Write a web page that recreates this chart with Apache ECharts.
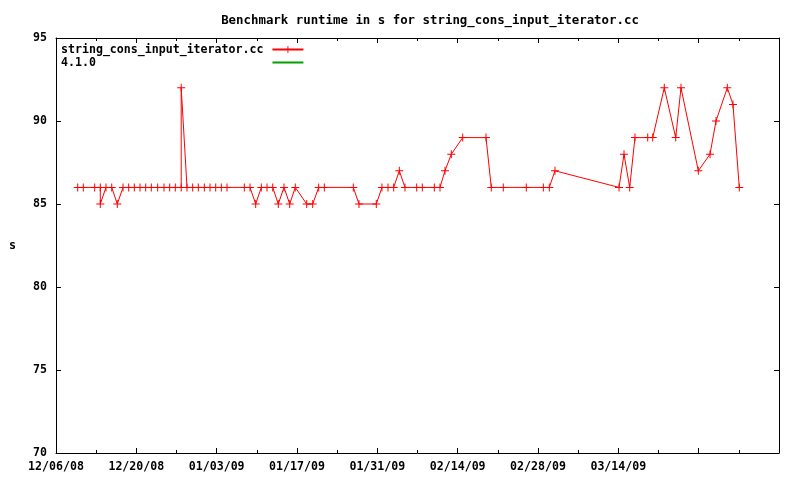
<!DOCTYPE html>
<html>
<head>
<meta charset="utf-8">
<script src="https://cdn.jsdelivr.net/npm/echarts@6/dist/echarts.min.js"></script>
<style>html,body{margin:0;padding:0;background:#fff;}#c{width:800px;height:480px;}</style>
</head>
<body>
<div id="c"></div>
<script>
// Days since 12/06/08 and runtime in s
var daysSinceStart = [3.78,4.76,6.74,7.72,7.72,8.71,9.71,10.68,11.68,12.67,13.65,14.64,15.63,16.61,17.72,18.82,19.81,20.79,21.82,21.82,22.83,23.82,24.80,25.85,26.84,27.83,28.81,29.80,32.82,33.81,34.80,35.78,36.77,37.77,38.74,39.73,40.73,41.70,43.69,44.74,45.78,46.76,51.81,52.80,55.82,56.81,57.86,58.85,59.83,60.82,62.86,63.84,65.93,66.92,67.79,68.89,70.88,74.94,75.86,77.95,81.96,84.93,85.97,86.96,98.12,98.99,99.98,100.90,103.12,103.99,106.01,108.00,108.92,111.94,113.98,115.02,116.99,117.98,119.08];
var runtimeS = [86,86,86,86,85,86,86,85,86,86,86,86,86,86,86,86,86,86,86,92,86,86,86,86,86,86,86,86,86,86,85,86,86,86,85,86,85,86,85,85,86,86,86,85,85,86,86,86,87,86,86,86,86,86,87,88,89,89,86,86,86,86,86,87,86,88,86,89,89,89,92,89,92,87,88,90,92,91,86];
var xTickLabels = ['12/06/08','12/20/08','01/03/09','01/17/09','01/31/09','02/14/09','02/28/09','03/14/09'];
var seriesNames = ['string_cons_input_iterator.cc','4.1.0'];
var titleText = 'Benchmark runtime in s for string_cons_input_iterator.cc';

var mono = 'DejaVu Sans Mono';
var pts = daysSinceStart.map(function(d,i){return [d, runtimeS[i]];});
var plus = 'path://M0,3.5H8V4.5H0Z M3.5,0H4.5V8H3.5Z';
var nameLen = Math.max.apply(null, seriesNames.map(function(s){return s.length;}));

var chart = echarts.init(document.getElementById('c'), null, {renderer:'canvas'});
var xCommon = {
  type:'value', min:0, max:126, interval:14,
  axisLine:{show:true, onZero:false, lineStyle:{color:'#000', width:1}},
  axisTick:{show:true, inside:true, length:5, lineStyle:{color:'#000'}},
  minorTick:{show:true, splitNumber:2, length:3, lineStyle:{color:'#000'}},
  splitLine:{show:false}
};
var yCommon = {
  type:'value', min:70, max:95, interval:5,
  axisLine:{show:true, onZero:false, lineStyle:{color:'#000', width:1}},
  axisTick:{show:true, inside:true, length:5, lineStyle:{color:'#000'}},
  splitLine:{show:false}
};
chart.setOption({
  animation:false,
  backgroundColor:'#fff',
  title:{text:titleText, left:425, top:10, textAlign:'center',
    textStyle:{fontFamily:mono, fontSize:12.4, fontWeight:'bold', color:'#000'}},
  legend:{
    orient:'vertical', left:56, top:38, align:'right', itemGap:0,
    itemWidth:31, itemHeight:9,
    data:[seriesNames[0], {name:seriesNames[1], itemStyle:{opacity:0}}],
    formatter:function(n){ var s=n; while(s.length<nameLen) s+=' '; return s; },
    textStyle:{fontFamily:mono, fontSize:11.6, fontWeight:'bold', color:'#000', lineHeight:13, padding:[0,4,0,0]}
  },
  grid:{left:56, right:21, top:38, bottom:27},
  xAxis:[
    Object.assign({}, xCommon, {position:'bottom',
      axisLabel:{margin:8, fontFamily:mono, fontSize:11.6, fontWeight:'bold', color:'#000',
        showMinLabel:true, showMaxLabel:true,
        formatter:function(v){var i=Math.round(v/14); return xTickLabels[i]||'';}}}),
    Object.assign({}, xCommon, {position:'top', axisLabel:{show:false}})
  ],
  yAxis:[
    Object.assign({}, yCommon, {position:'left', name:'s', nameLocation:'middle', nameRotate:0, nameGap:40,
      nameTextStyle:{fontFamily:mono, fontSize:11.6, fontWeight:'bold', color:'#000'},
      axisLabel:{margin:9, fontFamily:mono, fontSize:11.6, fontWeight:'bold', color:'#000'}}),
    Object.assign({}, yCommon, {position:'right', axisLabel:{show:false}})
  ],
  series:[
    {name:seriesNames[0], type:'line', data:pts, xAxisIndex:0, yAxisIndex:0,
      symbol:plus, symbolSize:8, showAllSymbol:true,
      itemStyle:{color:'#ff0000'}, lineStyle:{color:'#ff0000', width:1}},
    {name:seriesNames[1], type:'line', data:[], symbol:'none',
      itemStyle:{color:'#00a000'}, lineStyle:{color:'#00a000', width:1}}
  ]
});
</script>
</body>
</html>
